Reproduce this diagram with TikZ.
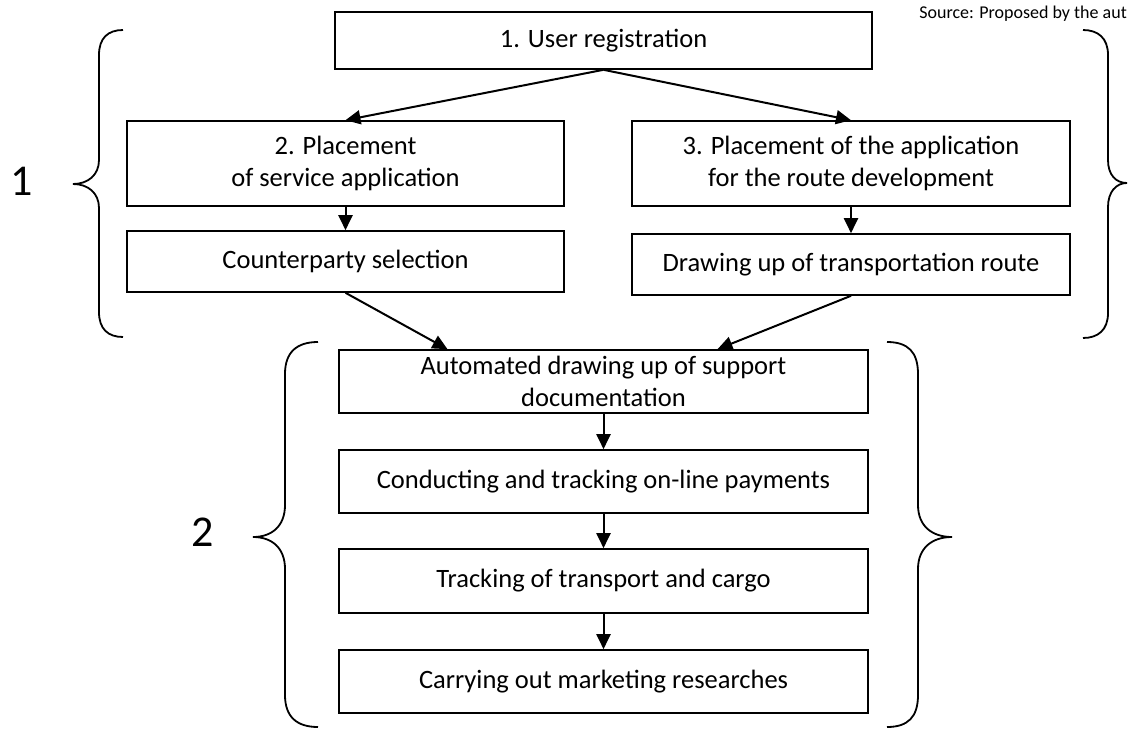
\documentclass[tikz,border=0pt]{standalone}
\usepackage{fontspec}
\setmainfont{Carlito}
\usetikzlibrary{arrows.meta}

\begin{document}
\begin{tikzpicture}[x=1pt,y=-1pt,
  stage/.style={draw, line width=1.6pt, align=center, inner xsep=4pt, inner ysep=2pt,
    font=\fontsize{26.5}{32}\selectfont},
  flow/.style={line width=2pt, -{Triangle[length=15pt,width=14pt]}},
  curl/.style={line width=1.8pt},
  group/.style={font=\fontsize{44}{50}\selectfont}]
  \clip (0,0) rectangle (1128,731);
  \node[anchor=base east, inner sep=0pt, font=\fontsize{18}{21}\selectfont] (src) at (1127,18)
    {Source: Proposed by the aut};

  % first stage
  \node[stage, minimum width=537pt, minimum height=57pt] (reg) at (603.5,40.5) {1. User registration};
  \node[stage, minimum width=437pt, minimum height=85pt] (service) at (345.5,163.5)
    {2. Placement\\ of service application};
  \node[stage, minimum width=438pt, minimum height=85pt] (routeapp) at (851,163.5)
    {3. Placement of the application\\ for the route development};
  \node[stage, minimum width=437pt, minimum height=61pt] (select) at (345.5,261.5) {Counterparty selection};
  \node[stage, minimum width=438pt, minimum height=61pt] (route) at (851,264.5) {Drawing up of transportation route};

  % second stage
  \node[stage, minimum width=529pt, minimum height=63pt] (docs) at (603.5,381.5)
    {Automated drawing up of support\\ documentation};
  \node[stage, minimum width=529pt, minimum height=63pt] (pay) at (603.5,481.5)
    {Conducting and tracking on-line payments};
  \node[stage, minimum width=529pt, minimum height=64pt] (cargo) at (603.5,581)
    {Tracking of transport and cargo};
  \node[stage, minimum width=529pt, minimum height=63pt] (market) at (603.5,681.5)
    {Carrying out marketing researches};

  \draw[flow] (reg.south) -- (service.north);
  \draw[flow] (reg.south) -- (routeapp.north);
  \draw[flow] (service) -- (select);
  \draw[flow] (routeapp) -- (route);
  \draw[flow] (select.south) -- ([xshift=-156pt]docs.north);
  \draw[flow] (route.south) -- ([xshift=114pt]docs.north);
  \draw[flow] (docs) -- (pay);
  \draw[flow] (pay) -- (cargo);
  \draw[flow] (cargo) -- (market);

  % braces
  \draw[curl] (123,30) .. controls (108,30) and (99,38) .. (99,55) -- (99,160)
    .. controls (99,175) and (88,184) .. (73,184) .. controls (88,184) and (99,193) .. (99,208)
    -- (99,312) .. controls (99,329) and (108,337) .. (123,337);
  \draw[curl] (1083,30) .. controls (1098,30) and (1108,38) .. (1108,55) -- (1108,160)
    .. controls (1108,175) and (1116,183) .. (1127,183) .. controls (1116,183) and (1108,192) .. (1108,207)
    -- (1108,313) .. controls (1108,330) and (1098,338) .. (1083,338);
  \draw[curl] (318,342) .. controls (297,342) and (285,352) .. (285,374) -- (285,505)
    .. controls (285,526) and (272,537) .. (253,537) .. controls (272,537) and (285,548) .. (285,569)
    -- (285,695) .. controls (285,717) and (297,727) .. (318,727);
  \draw[curl] (887,342) .. controls (908,342) and (918,352) .. (918,374) -- (918,505)
    .. controls (918,526) and (932,537) .. (952,537) .. controls (932,537) and (918,548) .. (918,569)
    -- (918,695) .. controls (918,717) and (908,727) .. (887,727);

  \node[group] (one) at (22,181) {1};
  \node[group] (two) at (203,532) {2};
\end{tikzpicture}
\end{document}
